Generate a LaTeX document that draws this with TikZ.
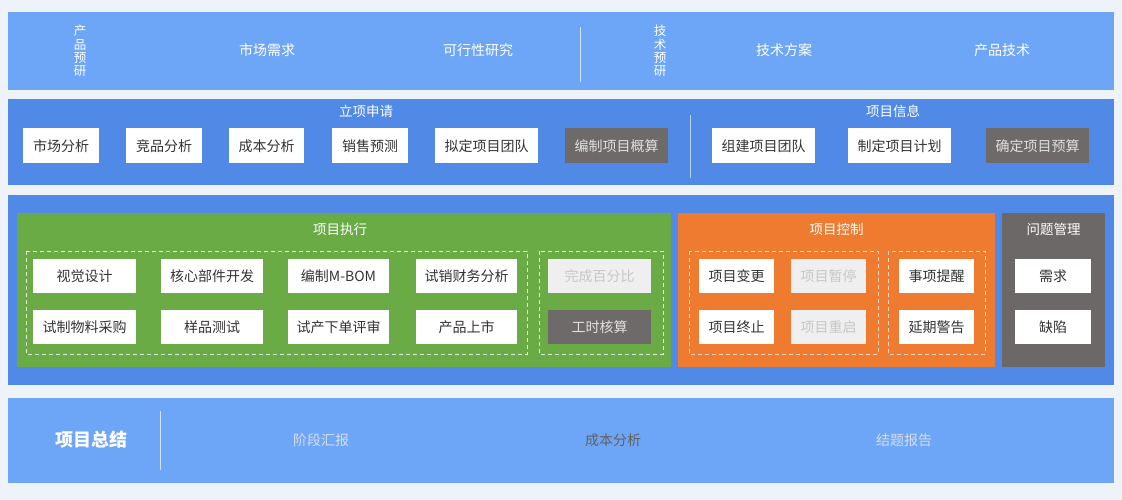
\documentclass[tikz,border=0pt]{standalone}
\usepackage{fontspec}
\setmainfont{Noto Sans CJK SC}
\usepackage{xcolor}

\definecolor{pagebg}{HTML}{EEF3F9}
\definecolor{lightband}{HTML}{6EA6F7}
\definecolor{midband}{HTML}{5089E6}
\definecolor{execgreen}{HTML}{6AAB45}
\definecolor{ctrlorange}{HTML}{EE7B2F}
\definecolor{issuegrey}{HTML}{6C6868}
\definecolor{darkbox}{HTML}{6E6A6A}
\definecolor{offbox}{HTML}{EFEFEF}
\definecolor{boxtext}{HTML}{333333}
\definecolor{paletext}{HTML}{D5DDEC}

\begin{document}
\begin{tikzpicture}[x=1pt, y=-1pt, node distance={51pt},
    box/.style = {fill=white, text=boxtext, minimum height=34pt, inner sep=0pt, font=\fontsize{14}{14}\selectfont},
    dark/.style = {box, fill=darkbox, text=white!88!black},
    off/.style = {box, fill=offbox, text=black!22},
    title/.style = {text=white, font=\fontsize{13.5}{14}\selectfont},
    vert/.style = {text=white, align=center, font=\fontsize{12.5}{13.3}\selectfont},
    sep/.style = {draw=white!70!lightband, line width=0.8pt},
    group/.style = {draw=white!80!execgreen, line width=0.9pt, dash pattern=on 4pt off 3pt}]

        % background and bands
        \fill[pagebg] (0,0) rectangle (1122,500);
        \fill[lightband] (8,12) rectangle (1114,90);
        \fill[midband] (8,99) rectangle (1114,185);
        \fill[midband] (8,195) rectangle (1114,385);
        \fill[lightband] (8,398) rectangle (1114,483);

        % product / tech research
        \node[vert] (pr) at (80,51) {产\\品\\预\\研};
        \node[title, font=\fontsize{14}{14}\selectfont] (sx) at (267,50) {市场需求};
        \node[title, font=\fontsize{14}{14}\selectfont] (kx) at (478,50) {可行性研究};
        \draw[sep] (580,27) -- (580,82);
        \node[vert] (tr) at (660,51) {技\\术\\预\\研};
        \node[title, font=\fontsize{14}{14}\selectfont] (fa) at (784,50) {技术方案};
        \node[title, font=\fontsize{14}{14}\selectfont] (jt) at (1002,50) {产品技术};

        % application
        \node[title] (lx) at (366,111) {立项申请};
        \node[title] (xx) at (893,111) {项目信息};
        \draw[sep, draw=white!60!midband] (690,115) -- (690,178);
        \node[box, minimum width=76pt, minimum height=35pt] (a1) at (61,146) {市场分析};
        \node[box, minimum width=76pt, minimum height=35pt] (a2) at (164,146) {竞品分析};
        \node[box, minimum width=75pt, minimum height=35pt] (a3) at (266.5,146) {成本分析};
        \node[box, minimum width=76pt, minimum height=35pt] (a4) at (370,146) {销售预测};
        \node[box, minimum width=103pt, minimum height=35pt] (a5) at (486.5,146) {拟定项目团队};
        \node[dark, minimum width=103pt, minimum height=35pt] (a6) at (616.5,146) {编制项目概算};
        \node[box, minimum width=103pt, minimum height=35pt] (b1) at (763.5,146) {组建项目团队};
        \node[box, minimum width=103pt, minimum height=35pt] (b2) at (899.5,146) {制定项目计划};
        \node[dark, minimum width=103pt, minimum height=35pt] (b3) at (1037.5,146) {确定项目预算};

        % execution
        \fill[execgreen] (17,213) rectangle (671,367);
        \node[title] (zx) at (340,229) {项目执行};
        \draw[group] (26,251) rectangle (527,354);
        \draw[group] (539,251) rectangle (663,354);
        \node[box, minimum width=103pt] (e1) at (84.5,276) {视觉设计};
        \node[box, minimum width=102pt] (e2) at (212,276) {核心部件开发};
        \node[box, minimum width=101pt] (e3) at (338.5,276) {编制M-BOM};
        \node[box, minimum width=101pt] (e4) at (466.5,276) {试销财务分析};
        \node[off, minimum width=103pt] (e5) at (599.5,276) {完成百分比};
        \node[box, minimum width=103pt] (f1) [below of = e1] {试制物料采购};
        \node[box, minimum width=102pt] (f2) [below of = e2] {样品测试};
        \node[box, minimum width=101pt] (f3) [below of = e3] {试产下单评审};
        \node[box, minimum width=101pt] (f4) [below of = e4] {产品上市};
        \node[dark, minimum width=103pt] (f5) [below of = e5] {工时核算};

        % control
        \fill[ctrlorange] (678,213) rectangle (995,367);
        \node[title] (kz) at (836.5,229) {项目控制};
        \draw[group, draw=white!70!ctrlorange] (689,251) rectangle (878,354);
        \draw[group, draw=white!70!ctrlorange] (888,251) rectangle (985,354);
        \node[box, minimum width=75pt] (c1) at (736.5,276) {项目变更};
        \node[off, minimum width=75pt] (c2) at (828.5,276) {项目暂停};
        \node[box, minimum width=75pt] (c3) at (936.5,276) {事项提醒};
        \node[box, minimum width=75pt] (d1) [below of = c1] {项目终止};
        \node[off, minimum width=75pt] (d2) [below of = c2] {项目重启};
        \node[box, minimum width=75pt] (d3) [below of = c3] {延期警告};

        % issues
        \fill[issuegrey] (1002,213) rectangle (1105,367);
        \node[title] (wt) at (1053.5,229) {问题管理};
        \node[box, minimum width=76pt] (q1) at (1053,276) {需求};
        \node[box, minimum width=76pt] (q2) [below of = q1] {缺陷};

        % summary
        \node[text=white, font=\fontsize{18}{18}\selectfont\bfseries] (zj) at (91,440) {项目总结};
        \draw[sep] (160,411) -- (160,470);
        \node[text=paletext, font=\fontsize{14}{14}\selectfont] (hb) at (321,440) {阶段汇报};
        \node[text=black!62, font=\fontsize{14}{14}\selectfont] (cb) at (613,440) {成本分析};
        \node[text=paletext, font=\fontsize{14}{14}\selectfont] (bg) at (904,440) {结题报告};

    \end{tikzpicture}
\end{document}
